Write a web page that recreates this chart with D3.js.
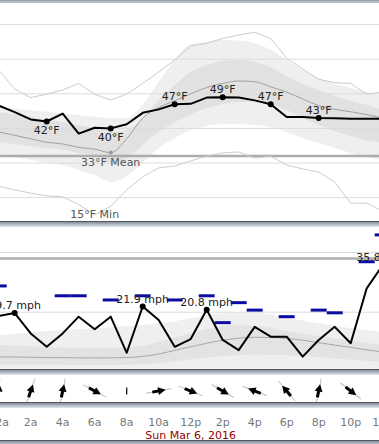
<!DOCTYPE html>
<html><head><meta charset="utf-8">
<script src="https://cdn.jsdelivr.net/npm/d3@7"></script>
<style>
body{margin:0;background:#fff;overflow:hidden}
svg{display:block}
text{font-family:"DejaVu Sans",Verdana,sans-serif}
</style></head>
<body><svg id="c" width="379" height="444"></svg>
<script>
// ---------- DATA ----------
const hours = d3.range(0, 25);
const hourLabels = ["12a","2a","4a","6a","8a","10a","12p","2p","4p","6p","8p","10p","12a"];
const dateLabel = "Sun Mar 6, 2016";

const temp     = [46.6,44.7,42.6,42,44.3,38.5,40.2,40,41.2,44.5,45.5,47,47.1,48.9,49,48.9,48.1,47,43.3,43.3,43,42.9,42.8,42.8,42.8];
const tempMean = [39,38,37,36,35.5,34.5,34,33,37,43,46,48,50,51.8,53,53.7,53.5,52,50.5,48.5,46.6,45.5,44.8,44,43];
const tempMax  = [56.9,51.4,48.9,49.9,51.1,53,49.9,48.2,49.9,53,56.3,59.8,63.8,64.6,66,67,67.8,66,60.3,57.2,54.2,53.2,53,49.9,50.5];
const tempMin  = [23.3,22.2,21.3,20.5,20.2,18,15,17.5,22.2,26,28.6,29.1,30.6,32,32.9,33.2,31.4,32,29.4,28.3,27.4,24.5,18.4,18.4,16.1];
const tempOuterHi = [46.4,45.8,45.3,44.8,44.4,43.9,43.4,43,43,46.8,53.4,59.8,64.4,65,65.6,65.3,64.7,62.7,59.8,56.9,54.6,52.8,51.7,50.5,49.4];
const tempInnerHi = [44.7,44,43.3,42.6,41.8,41,40.1,39,39.5,43,48.2,52.5,56.3,58.3,59.5,59.8,59.2,57.7,55.1,52.8,51.1,49.4,47.9,46.8,45.3];
const tempInnerLo = [36.1,35.5,34.9,34.3,33.8,32.9,32,30,31.4,35.2,39,41.8,44.1,45.9,47,47.6,47.6,47,45.3,43,41,39.2,37.8,36.6,35.8];
const tempOuterLo = [32.3,31.6,30.9,30.1,29.4,28,26.5,24.5,26.2,30,34.3,37.2,39.5,40.7,41.3,41.3,41,40.4,38.9,37.2,35.8,34.3,32.9,31.7,30.9];
const tempLabelHours = [3,7,11,14,17,20];
const tempLabelSide  = ["below","below","above","above","above","above"];
const tempGrid = [20,30,40,50,60,70];
const freezing = 32;

const wind  = [18.7,19.7,12.9,8.4,12.9,18.5,14.3,18.5,6.4,21.9,17.4,8.4,11,20.8,10.7,7.3,15.1,11.8,11.8,5.1,10.7,15.1,9.6,28,35.8];
const gusts = [28.8,null,null,null,25.5,25.5,null,24.1,null,25.5,null,24.1,null,25.5,16.5,23.2,20.7,null,18.5,null,20.7,19.8,null,36.9,45.9];
const windOuterHi = [12.3,12.8,13.2,13.6,14,14.3,14.6,15,15.3,15.7,16.3,17,18,19,19.7,20,19.8,19.2,18.2,17.2,16.3,15.5,14.7,14,13.3];
const windInnerHi = [9,8.8,8.6,8.4,8.2,8,8,8,8.2,8.8,10,11.5,13,14.3,15.2,15.6,15.4,14.8,13.8,12.8,12,11.2,10.4,9.7,9];
const windMean    = [5,5,4.9,4.8,4.8,4.7,4.7,4.7,4.8,5.2,6,7.2,8.4,9.6,10.6,11.3,11.6,11.5,11.2,10.6,9.8,9,8.2,7.4,6.7];
const windInnerLo = [2.5,2.5,2.4,2.4,2.4,2.3,2.3,2.3,2.4,2.6,3,3.6,4.2,4.8,5.3,5.6,5.8,5.7,5.6,5.3,4.9,4.5,4.1,3.7,3.3];
const windOuterLo = [0,0,0,0,0,0,0,0,0,0,0,0,0,0,0,0,0,0,0,0,0,0,0,0,0];
const windLabelHours = [1,9,13,24];
const windGrid = [20,40];
const windAlert = 38;

const dirHours = [0,2,4,6,8,10,12,14,16,18,20,22];
const dirTo    = [5,19,12,118,null,80,112,120,291,320,12,128]; // bearing wind blows toward; null = calm

// ---------- SCALES ----------
const W = 379;
const x  = d3.scaleLinear().domain([0,24]).range([-1.3,382.7]);
const yT = d3.scaleLinear().domain([30,40]).range([163,128.4]);
const yW = d3.scaleLinear().domain([0,40]).range([371.9,252.5]);

const svg = d3.select("#c");
const defs = svg.append("defs");
defs.append("clipPath").attr("id","clipT").append("rect").attr("x",0).attr("y",3).attr("width",W).attr("height",218);
defs.append("clipPath").attr("id","clipW").append("rect").attr("x",0).attr("y",227).attr("width",W).attr("height",142);
const g1 = defs.append("linearGradient").attr("id","sepG").attr("x1",0).attr("x2",0).attr("y1",0).attr("y2",1);
g1.append("stop").attr("offset","0%").attr("stop-color","#8c98a6");
g1.append("stop").attr("offset","100%").attr("stop-color","#e4e8ee");

function sep(y){
  svg.append("rect").attr("x",0).attr("y",y).attr("width",W).attr("height",1.6).attr("fill","#51575e");
  svg.append("rect").attr("x",0).attr("y",y+1.6).attr("width",W).attr("height",4.4).attr("fill","url(#sepG)");
}

// ---------- TEMPERATURE PANEL ----------
const gT = svg.append("g").attr("clip-path","url(#clipT)");
const areaT = (hi,lo)=>d3.area().x((d,i)=>x(hours[i])).y0((d,i)=>yT(lo[i])).y1((d,i)=>yT(hi[i])).curve(d3.curveMonotoneX);
const lineT = d3.line().x((d,i)=>x(hours[i])).y(d=>yT(d));
const lineTs = d3.line().x((d,i)=>x(hours[i])).y(d=>yT(d)).curve(d3.curveMonotoneX);

gT.append("path").datum(hours).attr("d",areaT(tempOuterHi,tempOuterLo)).attr("fill","#efefef");
gT.append("path").datum(hours).attr("d",areaT(tempInnerHi,tempInnerLo)).attr("fill","#e1e1e1");
gT.selectAll(".grid").data(tempGrid).join("line").attr("x1",0).attr("x2",W)
  .attr("y1",d=>yT(d)).attr("y2",d=>yT(d)).attr("stroke","#dcdcdc").attr("stroke-width",1);
gT.append("line").attr("x1",0).attr("x2",W).attr("y1",yT(freezing)).attr("y2",yT(freezing))
  .attr("stroke","#acacac").attr("stroke-width",2.5);
gT.append("path").datum(tempMax).attr("d",lineT).attr("fill","none").attr("stroke","#cccccc").attr("stroke-width",1);
gT.append("path").datum(tempMin).attr("d",lineT).attr("fill","none").attr("stroke","#cccccc").attr("stroke-width",1);
gT.append("path").datum(tempMean).attr("d",lineTs).attr("fill","none").attr("stroke","#a0a0a0").attr("stroke-width",1);
gT.append("path").datum(temp).attr("d",lineT).attr("fill","none").attr("stroke","#000").attr("stroke-width",2).attr("stroke-linejoin","round");

tempLabelHours.forEach((h,k)=>{
  const cx = x(h), cy = yT(temp[h]);
  gT.append("circle").attr("cx",cx).attr("cy",cy).attr("r",3).attr("fill","#000");
  gT.append("text").attr("x",cx).attr("y", tempLabelSide[k]==="above" ? cy-8 : cy+9)
    .attr("text-anchor","middle").attr("dominant-baseline","central").attr("font-size",11).attr("fill","#222")
    .text(Math.round(temp[h])+"°F");
});
const iMean = d3.minIndex(tempMean), iMin = d3.minIndex(tempMin);
gT.append("circle").attr("cx",x(iMean)).attr("cy",yT(tempMean[iMean])).attr("r",2).attr("fill","#999");
gT.append("text").attr("x",x(iMean)).attr("y",yT(tempMean[iMean])+9.5).attr("text-anchor","middle")
  .attr("dominant-baseline","central").attr("font-size",11).attr("fill","#555").text(Math.round(tempMean[iMean])+"°F Mean");
gT.append("text").attr("x",x(iMin)).attr("y",Math.min(yT(tempMin[iMin])+9.5,214)).attr("text-anchor","middle")
  .attr("dominant-baseline","central").attr("font-size",11).attr("fill","#555").text(Math.round(tempMin[iMin])+"°F Min");

// ---------- WIND PANEL ----------
const gW = svg.append("g").attr("clip-path","url(#clipW)");
const areaW = (hi,lo)=>d3.area().x((d,i)=>x(hours[i])).y0((d,i)=>yW(lo[i])).y1((d,i)=>yW(hi[i])).curve(d3.curveMonotoneX);
gW.append("path").datum(hours).attr("d",areaW(windOuterHi,windOuterLo)).attr("fill","#efefef");
gW.append("path").datum(hours).attr("d",areaW(windInnerHi,windInnerLo)).attr("fill","#e3e3e3");
gW.selectAll(".wgrid").data(windGrid).join("line").attr("x1",0).attr("x2",W)
  .attr("y1",d=>yW(d)).attr("y2",d=>yW(d)).attr("stroke","#dcdcdc").attr("stroke-width",1);
gW.append("line").attr("x1",0).attr("x2",W).attr("y1",yW(windAlert)).attr("y2",yW(windAlert))
  .attr("stroke","#acacac").attr("stroke-width",2.5);
gW.append("path").datum(windMean).attr("d",d3.line().x((d,i)=>x(hours[i])).y(d=>yW(d)).curve(d3.curveMonotoneX))
  .attr("fill","none").attr("stroke","#a8a8a8").attr("stroke-width",1);
gW.selectAll(".gust").data(hours.filter(h=>gusts[h]!==null)).join("line")
  .attr("x1",h=>x(h)-8).attr("x2",h=>x(h)+8).attr("y1",h=>yW(gusts[h])).attr("y2",h=>yW(gusts[h]))
  .attr("stroke","#0c0ca4").attr("stroke-width",3);
gW.append("path").datum(wind).attr("d",d3.line().x((d,i)=>x(hours[i])).y(d=>yW(d)))
  .attr("fill","none").attr("stroke","#000").attr("stroke-width",2).attr("stroke-linejoin","round");
windLabelHours.forEach(h=>{
  const cx = x(h), cy = yW(wind[h]);
  gW.append("circle").attr("cx",cx).attr("cy",cy).attr("r",3).attr("fill","#000");
  gW.append("text").attr("x",cx).attr("y",cy-7.5).attr("text-anchor","middle").attr("dominant-baseline","central")
    .attr("font-size",11).attr("fill","#222").text(wind[h].toFixed(1)+" mph");
});

// ---------- WIND DIRECTION STRIP ----------
const gD = svg.append("g");
dirHours.forEach((h,k)=>{
  const b = dirTo[k];
  const g = gD.append("g").attr("transform",`translate(${x(h)},391)`);
  if(b===null){
    g.append("line").attr("x1",0).attr("x2",0).attr("y1",-3.5).attr("y2",3.5).attr("stroke","#000").attr("stroke-width",1.2);
    return;
  }
  const r = g.append("g").attr("transform",`rotate(${b})`);
  r.append("line").attr("x1",0).attr("x2",0).attr("y1",13).attr("y2",-13).attr("stroke","#bdbdbd").attr("stroke-width",1);
  r.append("line").attr("x1",0).attr("x2",0).attr("y1",6.5).attr("y2",-1).attr("stroke","#000").attr("stroke-width",3);
  r.append("path").attr("d","M0,-7L-4,0.5L4,0.5Z").attr("fill","#000");
});

// ---------- SEPARATORS ----------
svg.append("rect").attr("x",0).attr("y",0).attr("width",W).attr("height",3).attr("fill","#b4bcc4");
svg.append("rect").attr("x",0).attr("y",0).attr("width",W).attr("height",1.2).attr("fill","#9aa3ad");
sep(221);
sep(369);
sep(402);
sep(440);

// ---------- X AXIS ----------
const ax = svg.append("g");
ax.selectAll("text").data(hourLabels).join("text")
  .attr("x",(d,i)=>x(i*2)).attr("y",422).attr("text-anchor","middle").attr("dominant-baseline","central")
  .attr("font-size",11).attr("fill","#777").text(d=>d);
svg.append("text").attr("x",x(12)).attr("y",435.5).attr("text-anchor","middle").attr("dominant-baseline","central")
  .attr("font-size",11).attr("fill","#990000").text(dateLabel);
</script></body></html>
